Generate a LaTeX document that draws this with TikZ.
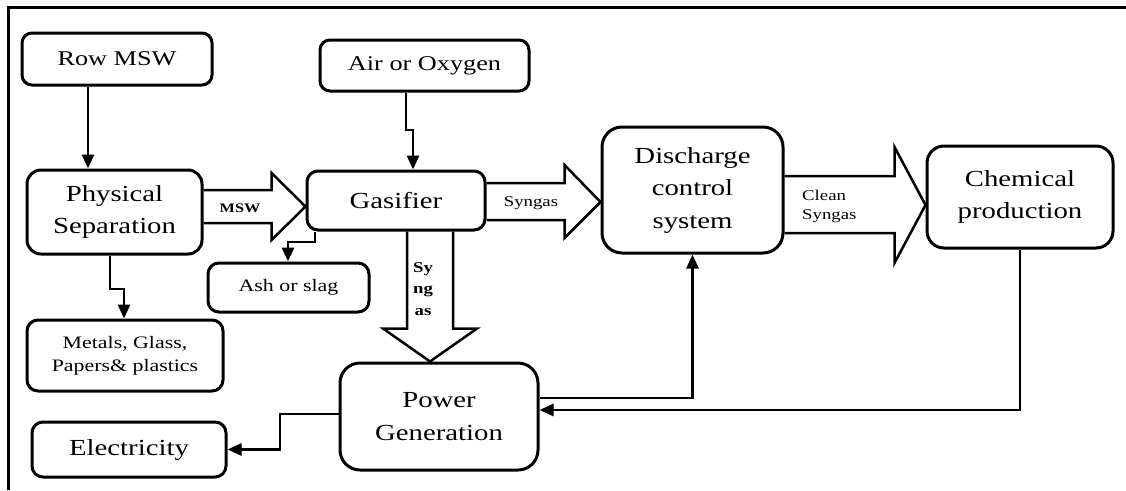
\documentclass[tikz,border=0pt]{standalone}
\usepackage{fontspec}
\setmainfont{Liberation Serif}[FakeStretch=1.25]
\usepackage{tikz}
\usetikzlibrary{arrows.meta,calc}
\tikzset{
  >={Triangle[length=14pt,width=12pt]},
  procbox/.style={draw=black,line width=3pt,rounded corners=14pt,align=center,
    inner sep=0pt,font=\fontsize{23}{32.5}\selectfont},
  inbox/.style={procbox,rounded corners=10pt,font=\fontsize{21}{25}\selectfont},
  outbox/.style={procbox,rounded corners=11pt,font=\fontsize{17.5}{23}\selectfont},
  flow/.style={->,line width=2.8pt},
  fatarrow/.style={draw=black,line width=2.5pt,line join=miter},
  streamlabel/.style={font=\fontsize{15}{19}\selectfont,inner sep=0pt,align=left},
  boldlabel/.style={streamlabel,align=center,font=\bfseries\fontsize{15}{21.5}\selectfont},
  frameline/.style={line width=3pt}
}
\begin{document}
\begin{tikzpicture}[x=1pt,y=-1pt]
  \useasboundingbox (0,0) rectangle (1126,490);
  \draw[frameline] (8,490) |- (1126,7);

  \node[inbox,minimum width=190pt,minimum height=52pt] (rowmsw) at (117,59) {Row MSW};
  \node[inbox,minimum width=209pt,minimum height=51pt] (air) at (424.5,65.5) {Air or Oxygen};

  \node[procbox,minimum width=175pt,minimum height=84pt] (phys) at (114.5,212) {Physical\\Separation};
  \node[procbox,minimum width=178pt,minimum height=59pt,rounded corners=11pt] (gasifier) at (396,200.5) {Gasifier};
  \node[procbox,minimum width=181pt,minimum height=126pt,rounded corners=20pt] (discharge) at (692.5,190) {Discharge\\control\\system};
  \node[procbox,minimum width=186pt,minimum height=102pt,rounded corners=17pt] (chemical) at (1020,197) {Chemical\\production};

  \node[outbox,minimum width=161pt,minimum height=49pt] (ash) at (288.5,287.5) {Ash or slag};
  \node[outbox,minimum width=196pt,minimum height=71pt] (metals) at (125,355.5) {Metals, Glass,\\Papers\& plastics};
  \node[procbox,minimum width=198pt,minimum height=107pt,rounded corners=20pt] (power) at (439,416.5) {Power\\Generation};
  \node[procbox,minimum width=194pt,minimum height=55pt,rounded corners=11pt] (electricity) at (129,449.5) {Electricity};

  % block arrows for the gas streams
  \draw[fatarrow] ($(phys.east)+(0,-22)$) -- ++(68,0) -- ++(0,-17) -- ($(gasifier.west)+(0,6)$)
    -- ($(phys.east)+(68,28)$) -- ++(0,-17) -- ($(phys.east)+(0,11)$);
  \draw[fatarrow] ($(gasifier.east)+(0,-17.5)$) -- ++(78,0) -- ++(0,-18) -- ($(discharge.west)+(0,12)$)
    -- ($(gasifier.east)+(78,37.5)$) -- ++(0,-18) -- ($(gasifier.east)+(0,19.5)$);
  \draw[fatarrow] ($(discharge.east)+(0,-14)$) -- ++(110,0) -- ++(0,-29) -- ($(chemical.west)+(0,8)$)
    -- ($(discharge.east)+(110,73)$) -- ++(0,-30) -- ($(discharge.east)+(0,43)$);
  \draw[fatarrow] ($(gasifier.south)+(11,0)$) -- ++(0,97) -- ++(-24,0) -- ($(power.north)+(-9,0)$)
    -- ($(gasifier.south)+(81,97)$) -- ++(-24,0) -- ($(gasifier.south)+(57,0)$);

  \node[boldlabel,font=\bfseries\fontsize{13}{15}\selectfont] (msw) at (240,208) {MSW};
  \node[streamlabel] (syngas) at (531,203) {Syngas};
  \node[streamlabel,anchor=west] (cleansyngas) at (802,206) {Clean\\Syngas};
  \node[boldlabel] (syngasdown) at (423,289) {Sy\\ng\\as};

  % thin connectors
  \draw[flow] (88,0 |- rowmsw.south) -- (88,0 |- phys.north);
  \draw[flow] (406,0 |- air.south) |- (413,130) -- (413,0 |- gasifier.north);
  \draw[flow] (315,0 |- gasifier.south) |- (288,242) -- (288,0 |- ash.north);
  \draw[flow] (110,0 |- phys.south) |- (124,289) -- (124,0 |- metals.north);
  \draw[flow] (power.west |- 0,414) -| (280,0 |- electricity.east) -- (electricity.east);
  \draw[flow] (power.east |- 0,398) -| (discharge.south);
  \draw[flow] (chemical.south) |- (power.east |- 0,410);
\end{tikzpicture}
\end{document}
